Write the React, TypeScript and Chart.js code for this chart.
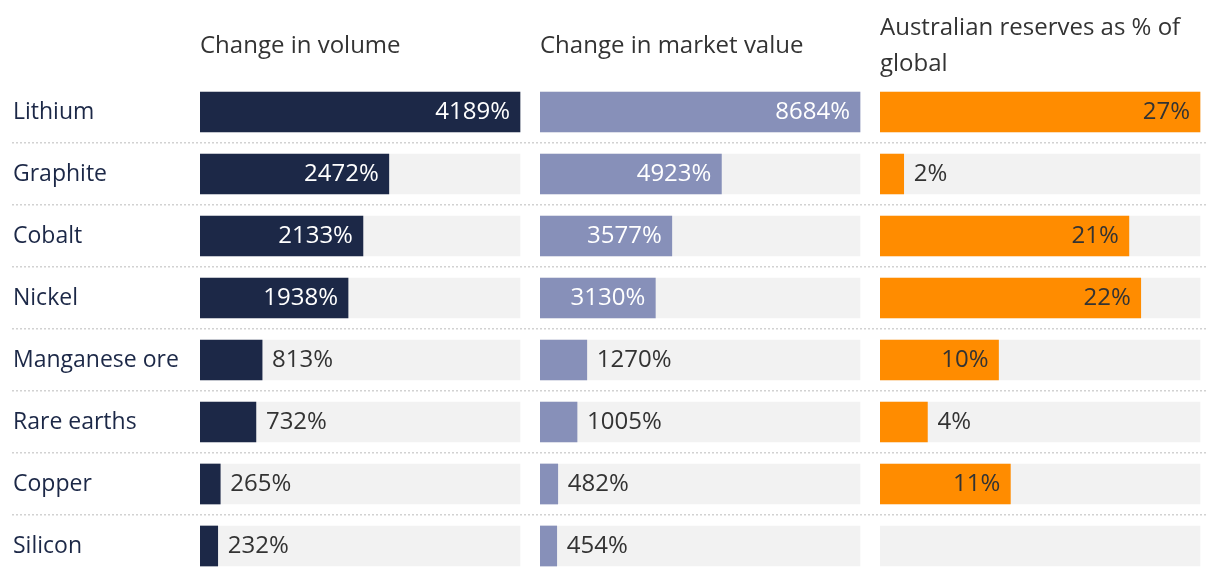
import React, { useEffect, useRef } from "react";
import { Chart, registerables } from "chart.js";

Chart.register(...registerables);

// ---- data ----
const categories = ["Lithium", "Graphite", "Cobalt", "Nickel", "Manganese ore", "Rare earths", "Copper", "Silicon"];
const volumeChange = [4189, 2472, 2133, 1938, 813, 732, 265, 232];
const marketValueChange = [8684, 4923, 3577, 3130, 1270, 1005, 482, 454];
const reservesShare: (number | null)[] = [27, 2, 21, 22, 10, 4, 11, null];
const volumeTitle = ["Change in volume"];
const marketTitle = ["Change in market value"];
const reservesTitle = ["Australian reserves as % of", "global"];

// ---- style ----
const FONT = "'Open Sans'";
const LABEL_SIZE = 23;
const TITLE_SIZE = 24;
const VALUE_SIZE = 24;
const NAVY = "#1c2847";
const LAVENDER = "#8790b9";
const ORANGE = "#ff8c00";
const TRACK = "#f2f2f2";
const TEXT = "#333333";
const LABEL_PAD = 10;
const BAR_W = 320; // px width of a full track
const GAP = 20; // px gap after a column

const volMax = Math.max(...volumeChange);
const mktMax = Math.max(...marketValueChange);
const resMax = Math.max(...(reservesShare.filter((v) => v != null) as number[]));

const valueLabels = {
  id: "valueLabels",
  afterDatasetsDraw(chart: any) {
    const ctx = chart.ctx;
    chart.data.datasets.forEach((ds: any, i: number) => {
      if (!ds.showValues) return;
      const meta = chart.getDatasetMeta(i);
      ctx.save();
      ctx.font = `${VALUE_SIZE}px ${FONT}`;
      ctx.textBaseline = "middle";
      meta.data.forEach((bar: any, j: number) => {
        const v = ds.data[j];
        if (v == null) return;
        const text = `${v}%`;
        const { x, y, base } = bar.getProps(["x", "y", "base"], true);
        const w = ctx.measureText(text).width;
        if (x - base >= w + 2 * LABEL_PAD) {
          ctx.fillStyle = ds.insideColor;
          ctx.textAlign = "right";
          ctx.fillText(text, x - LABEL_PAD, y);
        } else {
          ctx.fillStyle = TEXT;
          ctx.textAlign = "left";
          ctx.fillText(text, x + LABEL_PAD, y);
        }
      });
      ctx.restore();
    });
  },
};

function xAxis(title: string[], max: number, weight: number, padTop: number) {
  return {
    type: "linear" as const,
    position: "top" as const,
    stack: "columns",
    stackWeight: weight,
    min: 0,
    max,
    grid: { display: false, drawTicks: false },
    border: { display: false },
    ticks: { display: false },
    title: {
      display: true,
      text: title,
      align: "start" as const,
      color: TEXT,
      font: { family: FONT, size: TITLE_SIZE, lineHeight: 36 / TITLE_SIZE },
      padding: { top: padTop, bottom: 0 },
    },
    afterFit(scale: any) {
      scale.height = 81;
    },
  };
}

export default function App() {
  const ref = useRef<HTMLCanvasElement>(null);

  useEffect(() => {
    if (!ref.current) return;
    const common = { grouped: false, barThickness: 40, borderWidth: 0 };
    const chart = new Chart(ref.current, {
      type: "bar",
      data: {
        labels: categories,
        datasets: [
          { ...common, data: volumeChange, xAxisID: "x1", backgroundColor: NAVY, order: 1, showValues: true, insideColor: "#ffffff" } as any,
          { ...common, data: categories.map(() => volMax), xAxisID: "x1", backgroundColor: TRACK, order: 2 },
          { ...common, data: marketValueChange, xAxisID: "x2", backgroundColor: LAVENDER, order: 1, showValues: true, insideColor: "#ffffff" } as any,
          { ...common, data: categories.map(() => mktMax), xAxisID: "x2", backgroundColor: TRACK, order: 2 },
          { ...common, data: reservesShare, xAxisID: "x3", backgroundColor: ORANGE, order: 1, showValues: true, insideColor: TEXT } as any,
          { ...common, data: categories.map(() => resMax), xAxisID: "x3", backgroundColor: TRACK, order: 2 },
        ],
      },
      options: {
        indexAxis: "y",
        animation: false,
        responsive: true,
        maintainAspectRatio: false,
        layout: { padding: { left: 13, right: 12, top: 0, bottom: 0 } },
        plugins: { legend: { display: false }, tooltip: { enabled: false } },
        scales: {
          y: {
            type: "category",
            position: "left",
            offset: true,
            grid: {
              offset: true,
              drawOnChartArea: true,
              drawTicks: true,
              tickLength: 188,
              lineWidth: 1.5,
              tickWidth: 1.5,
              tickBorderDash: [2, 2],
              color: (c: any) => (c.index === 0 || c.index === categories.length ? "rgba(0,0,0,0)" : "#d2d2d2"),
            },
            border: { display: false, dash: [2, 2] },
            ticks: {
              crossAlign: "far",
              color: NAVY,
              padding: 0,
              font: { family: FONT, size: LABEL_SIZE },
              autoSkip: false,
            },
            afterFit(scale: any) {
              scale.width = 187;
              scale.paddingTop = 0;
              scale.paddingBottom = 0;
            },
          },
          x3: xAxis(reservesTitle, (resMax * (BAR_W + 8)) / BAR_W, BAR_W + 8, 10),
          x2: xAxis(marketTitle, (mktMax * (BAR_W + GAP)) / BAR_W, BAR_W + GAP, 28),
          x1: xAxis(volumeTitle, (volMax * (BAR_W + GAP)) / BAR_W, BAR_W + GAP, 28),
        } as any,
      },
      plugins: [valueLabels],
    });
    return () => chart.destroy();
  }, []);

  return (
    <div style={{ position: "fixed", left: 0, top: 0, width: 1220, height: 577 }}>
      <canvas ref={ref} />
    </div>
  );
}
